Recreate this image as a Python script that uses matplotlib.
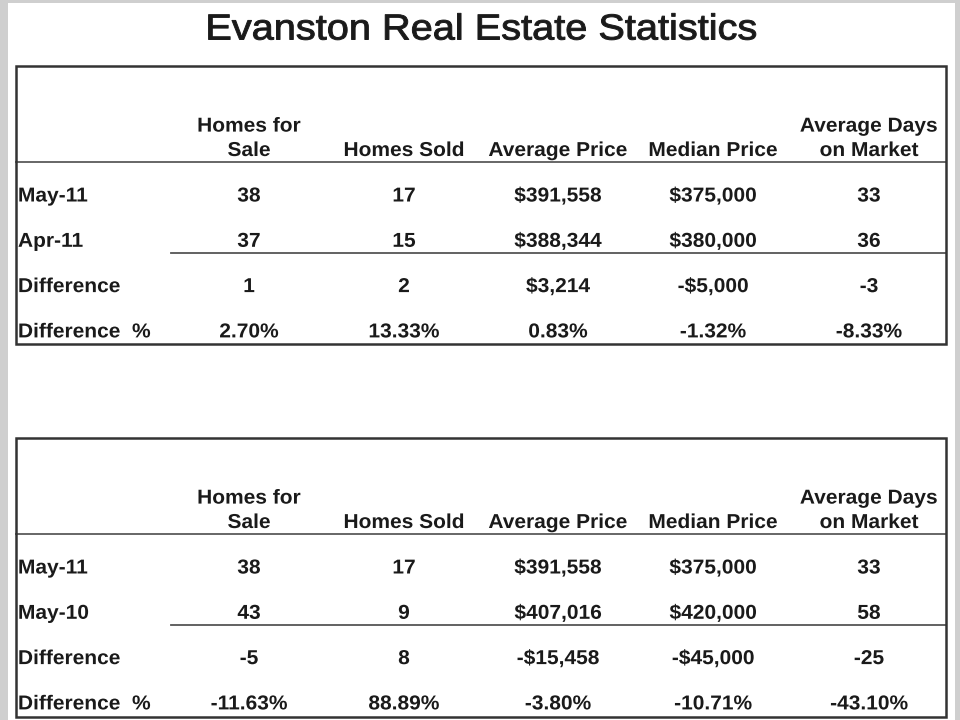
import matplotlib
matplotlib.use("Agg")
import matplotlib.pyplot as plt
from matplotlib.patches import Rectangle
from matplotlib.patheffects import AbstractPathEffect
from matplotlib.transforms import Affine2D

title = "Evanston Real Estate Statistics"
columns = ["Homes for\nSale", "Homes Sold", "Average Price", "Median Price", "Average Days\non Market"]

rows_1 = ["May-11", "Apr-11", "Difference", "Difference  %"]
homes_for_sale_1 = ["38", "37", "1", "2.70%"]
homes_sold_1 = ["17", "15", "2", "13.33%"]
average_price_1 = ["$391,558", "$388,344", "$3,214", "0.83%"]
median_price_1 = ["$375,000", "$380,000", "-$5,000", "-1.32%"]
days_on_market_1 = ["33", "36", "-3", "-8.33%"]

rows_2 = ["May-11", "May-10", "Difference", "Difference  %"]
homes_for_sale_2 = ["38", "43", "-5", "-11.63%"]
homes_sold_2 = ["17", "9", "8", "88.89%"]
average_price_2 = ["$391,558", "$407,016", "-$15,458", "-3.80%"]
median_price_2 = ["$375,000", "$420,000", "-$45,000", "-10.71%"]
days_on_market_2 = ["33", "58", "-25", "-43.10%"]

tables = [
    (rows_1, [homes_for_sale_1, homes_sold_1, average_price_1, median_price_1, days_on_market_1], 66, 344),
    (rows_2, [homes_for_sale_2, homes_sold_2, average_price_2, median_price_2, days_on_market_2], 438, 717),
]

FONT = "Liberation Sans"
TXT = "#1a1a1a"


class StretchX(AbstractPathEffect):
    """Stretch text horizontally around its left edge or centre."""
    def __init__(self, sx, anchor="center", stroke=0.0):
        super().__init__()
        self.sx = sx
        self.anchor = anchor
        self.stroke = stroke

    def draw_path(self, renderer, gc, tpath, affine, rgbFace=None):
        ext = tpath.get_extents()
        cx = (ext.x0 + ext.x1) / 2 if self.anchor == "center" else ext.x0
        tr = Affine2D().translate(-cx, 0).scale(self.sx, 1).translate(cx, 0) + affine
        renderer.draw_path(gc, tpath, tr, rgbFace)
        if self.stroke > 0:
            gc0 = renderer.new_gc()
            gc0.copy_properties(gc)
            gc0.set_linewidth(self.stroke)
            gc0.set_foreground(rgbFace)
            renderer.draw_path(gc0, tpath, tr, None)
            gc0.restore()


fig = plt.figure(figsize=(9.6, 7.2), dpi=100, facecolor="#cfcfcf")
ax = fig.add_axes([0, 0, 1, 1])
ax.set_xlim(0, 960)
ax.set_ylim(720, 0)
ax.axis("off")
ax.add_patch(Rectangle((8, 3), 947, 720, facecolor="white", edgecolor="none", zorder=0))

ax.text(481, 30, title, ha="center", va="center", fontsize=26, fontfamily=FONT, color=TXT,
        path_effects=[StretchX(1.1, "center", stroke=0.7)])

col_x = [249, 404, 558, 713, 869]
left, right = 16, 946
FS = 14.5
SX = 1.04

for rows, cols, top, bottom in tables:
    ax.add_patch(Rectangle((left, top), right - left, bottom - top, facecolor="none",
                           edgecolor="#333333", lw=1.8, zorder=3))
    header_y = top + 96
    ax.plot([left, right], [header_y, header_y], color="#666666", lw=1.4, zorder=2)
    row_y = [header_y + 34 + 45.3 * i for i in range(len(rows))]
    sep_y = (row_y[1] + row_y[2]) / 2 - 11
    ax.plot([171, right], [sep_y, sep_y], color="#555555", lw=1.3, zorder=2)
    for cx, name in zip(col_x, columns):
        ax.text(cx, header_y - 2, name, ha="center", va="bottom", fontsize=FS,
                fontweight="bold", fontfamily=FONT, color=TXT, linespacing=1.36,
                path_effects=[StretchX(SX, "center")])
    for y, r in zip(row_y, rows):
        ax.text(18, y, r, ha="left", va="center", fontsize=FS, fontweight="bold",
                fontfamily=FONT, color=TXT, path_effects=[StretchX(SX, "left")])
    for cx, vals in zip(col_x, cols):
        for y, v in zip(row_y, vals):
            ax.text(cx, y, v, ha="center", va="center", fontsize=FS, fontweight="bold",
                    fontfamily=FONT, color=TXT, path_effects=[StretchX(SX, "center")])

fig.savefig("out.png", dpi=100, facecolor=fig.get_facecolor())
